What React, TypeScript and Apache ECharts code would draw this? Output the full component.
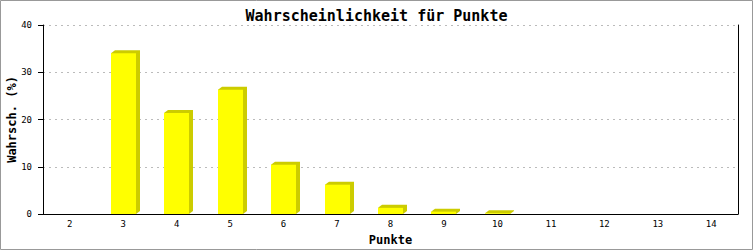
import React, { useEffect, useRef } from "react";
import * as echarts from "echarts";

const categories = ["2", "3", "4", "5", "6", "7", "8", "9", "10", "11", "12", "13", "14"];
const values = [0, 34.0, 21.4, 26.3, 10.4, 6.2, 1.3, 0.5, 0.15, 0, 0, 0, 0];
const yTicks = { min: 0, max: 40, interval: 10 };
const titleText = "Wahrscheinlichkeit für Punkte";
const xName = "Punkte";
const yName = "Wahrsch. (%)";

const MONO = "'DejaVu Sans Mono', 'Liberation Mono', monospace";

export default function App() {
  const ref = useRef<HTMLDivElement>(null);
  useEffect(() => {
    document.body.style.margin = "0";
    const chart = echarts.init(ref.current!, null, { renderer: "svg" });
    const option: any = {
      animation: false,
      backgroundColor: "#ffffff",
      title: {
        text: titleText,
        left: "center",
        top: 3,
        textStyle: { fontFamily: MONO, fontSize: 15, fontWeight: "bold", color: "#000" },
      },
      graphic: [
        {
          type: "rect",
          shape: { x: 0.5, y: 0.5, width: 752, height: 249 },
          style: { fill: "none", stroke: "#999999", lineWidth: 1 },
          silent: true,
          z: 100,
        },
      ],
      grid: { left: 43, right: 15, top: 25, bottom: 36, containLabel: false, outerBoundsMode: "none" },
      xAxis: {
        type: "category",
        data: categories,
        name: xName,
        nameLocation: "middle",
        nameGap: 20,
        nameMoveOverlap: false,
        nameTextStyle: { fontFamily: MONO, fontSize: 12, fontWeight: "bold", color: "#000" },
        axisLine: { show: true, lineStyle: { color: "#000", width: 1 } },
        axisTick: { show: false },
        axisLabel: { fontFamily: MONO, fontSize: 9, color: "#000", margin: 5 },
        splitLine: { show: false },
      },
      yAxis: [
        {
          type: "value",
          min: yTicks.min,
          max: yTicks.max,
          interval: yTicks.interval,
          name: yName,
          nameLocation: "middle",
          nameGap: 25,
          nameMoveOverlap: false,
          nameTextStyle: { fontFamily: MONO, fontSize: 12, fontWeight: "bold", color: "#000" },
          axisLine: { show: true, lineStyle: { color: "#000", width: 1 } },
          axisTick: { show: true, length: 5, lineStyle: { color: "#000" } },
          axisLabel: { fontFamily: MONO, fontSize: 9, color: "#000", margin: 11 },
          splitLine: { show: true, lineStyle: { color: "#bbbbbb", type: [2, 4], width: 1 } },
        },
        {
          type: "value",
          position: "right",
          min: yTicks.min,
          max: yTicks.max,
          interval: yTicks.interval,
          axisLine: { show: true, lineStyle: { color: "#000", width: 1 } },
          axisTick: { show: false },
          axisLabel: { show: false },
          splitLine: { show: false },
        },
      ],
      series: [
        {
          type: "custom",
          data: values.map((v, i) => [i, v]),
          encode: { x: 0, y: 1 },
          renderItem: (params: any, api: any) => {
            const v = api.value(1);
            if (!v) return { type: "group", children: [] };
            const top = api.coord([api.value(0), v]);
            const base = api.coord([api.value(0), 0]);
            const band = api.size([1, 0])[0];
            const w = Math.round(band * 0.47);
            const x0 = Math.round(top[0] - w / 2);
            const x1 = x0 + w;
            const yT = top[1];
            const yB = base[1];
            const dx = 4;
            const dy = 3;
            return {
              type: "group",
              children: [
                {
                  type: "polygon",
                  shape: {
                    points: [
                      [x0, yT],
                      [x0 + dx, yT - dy],
                      [x1 + dx, yT - dy],
                      [x1 + dx, yB - dy],
                      [x1, yB],
                    ],
                  },
                  style: { fill: "#cccc00", stroke: "none" },
                },
                {
                  type: "rect",
                  shape: { x: x0, y: yT, width: w, height: yB - yT },
                  style: { fill: "#ffff00", stroke: "none" },
                },
              ],
            };
          },
        },
      ],
    };
    chart.setOption(option);
    return () => chart.dispose();
  }, []);
  return <div ref={ref} style={{ width: 753, height: 250 }} />;
}
